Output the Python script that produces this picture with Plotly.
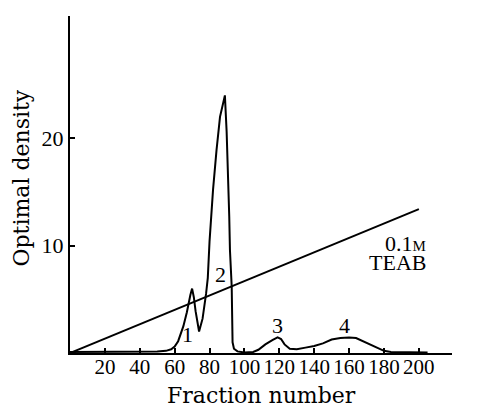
import plotly.graph_objects as go

# Elution profile (fraction number vs optical density)
fraction = [0, 10, 20, 30, 40, 50, 55, 58, 60, 62, 65, 67, 69, 70, 71, 72, 74, 76, 78, 79,
            80, 82, 84, 86, 88.8, 89.8, 91.3, 91.7, 92.7, 93.2, 94, 96, 100, 105, 108, 112,
            116, 119, 121, 123, 126, 130, 135, 140, 145, 150, 155, 160, 164, 168, 172,
            176, 180, 184, 190, 200, 205]
density = [0.1, 0.1, 0.12, 0.12, 0.15, 0.15, 0.2, 0.35, 0.6, 1.1, 2.5, 3.8, 5.4, 6.0, 5.2,
           3.9, 2.0, 3.2, 5.5, 7.0, 10.4, 15.2, 18.9, 22.0, 24.0, 20.6, 12.7, 9.6, 6.2,
           1.0, 0.4, 0.15, 0.05, 0.1, 0.3, 0.8, 1.2, 1.45, 1.3, 0.8, 0.4, 0.35, 0.5, 0.65,
           0.9, 1.25, 1.4, 1.45, 1.4, 1.1, 0.75, 0.45, 0.2, 0.1, 0.08, 0.1, 0.05]

# TEAB gradient (linear, 0 -> 0.1 M)
gradient_x = [0, 200]
gradient_y = [0, 13.4]

x_ticks = [20, 40, 60, 80, 100, 120, 140, 160, 180, 200]
y_ticks = [10, 20]

peak_labels = ["1", "2", "3", "4"]
peak_x = [67.6, 86, 119.2, 157.6]
peak_y = [1.7, 7.3, 2.6, 2.6]

FONT = "Liberation Serif"

fig = go.Figure()
fig.add_trace(go.Scatter(x=fraction, y=density, mode="lines",
                         line=dict(color="black", width=2), showlegend=False))
fig.add_trace(go.Scatter(x=gradient_x, y=gradient_y, mode="lines",
                         line=dict(color="black", width=2), showlegend=False))

for t, x, y in zip(peak_labels, peak_x, peak_y):
    fig.add_annotation(x=x, y=y, text=t, showarrow=False,
                       font=dict(family=FONT, size=22, color="black"))

fig.add_annotation(x=205, y=10.2, text="0.1<span style='font-size:15px'>M</span>",
                   showarrow=False, xanchor="right",
                   font=dict(family=FONT, size=22, color="black"))
fig.add_annotation(x=205, y=8.4, text="TEAB", showarrow=False, xanchor="right",
                   font=dict(family=FONT, size=22, color="black"))

fig.add_annotation(xref="paper", yref="paper", x=0.5, y=-0.125, text="Fraction number",
                   xanchor="center", yanchor="middle",
                   showarrow=False, font=dict(family="DejaVu Serif", size=22, color="black"))
fig.add_annotation(xref="paper", yref="paper", x=-0.127, y=0.519, text="Optimal density",
                   xanchor="center", yanchor="middle",
                   showarrow=False, textangle=-90,
                   font=dict(family="DejaVu Serif", size=22, color="black"))

fig.update_layout(
    width=486, height=407,
    margin=dict(l=62, r=42, t=8, b=62),
    paper_bgcolor="white", plot_bgcolor="white",
    xaxis=dict(range=[0, 219], tickvals=x_ticks, ticktext=[str(v) for v in x_ticks],
               showgrid=False, zeroline=False, showline=True, linecolor="black",
               linewidth=2, ticks="inside", ticklen=5, tickwidth=1.5, tickcolor="black",
               tickangle=0, ticklabelstandoff=-6,
               tickfont=dict(family=FONT, size=21, color="black")),
    yaxis=dict(range=[0, 31.4], tickvals=y_ticks, ticktext=[str(v) for v in y_ticks],
               showgrid=False, zeroline=False, showline=True, linecolor="black",
               linewidth=2, ticks="inside", ticklen=5, tickwidth=1.5, tickcolor="black",
               tickfont=dict(family=FONT, size=22, color="black")),
)

fig.write_html("out.html")
